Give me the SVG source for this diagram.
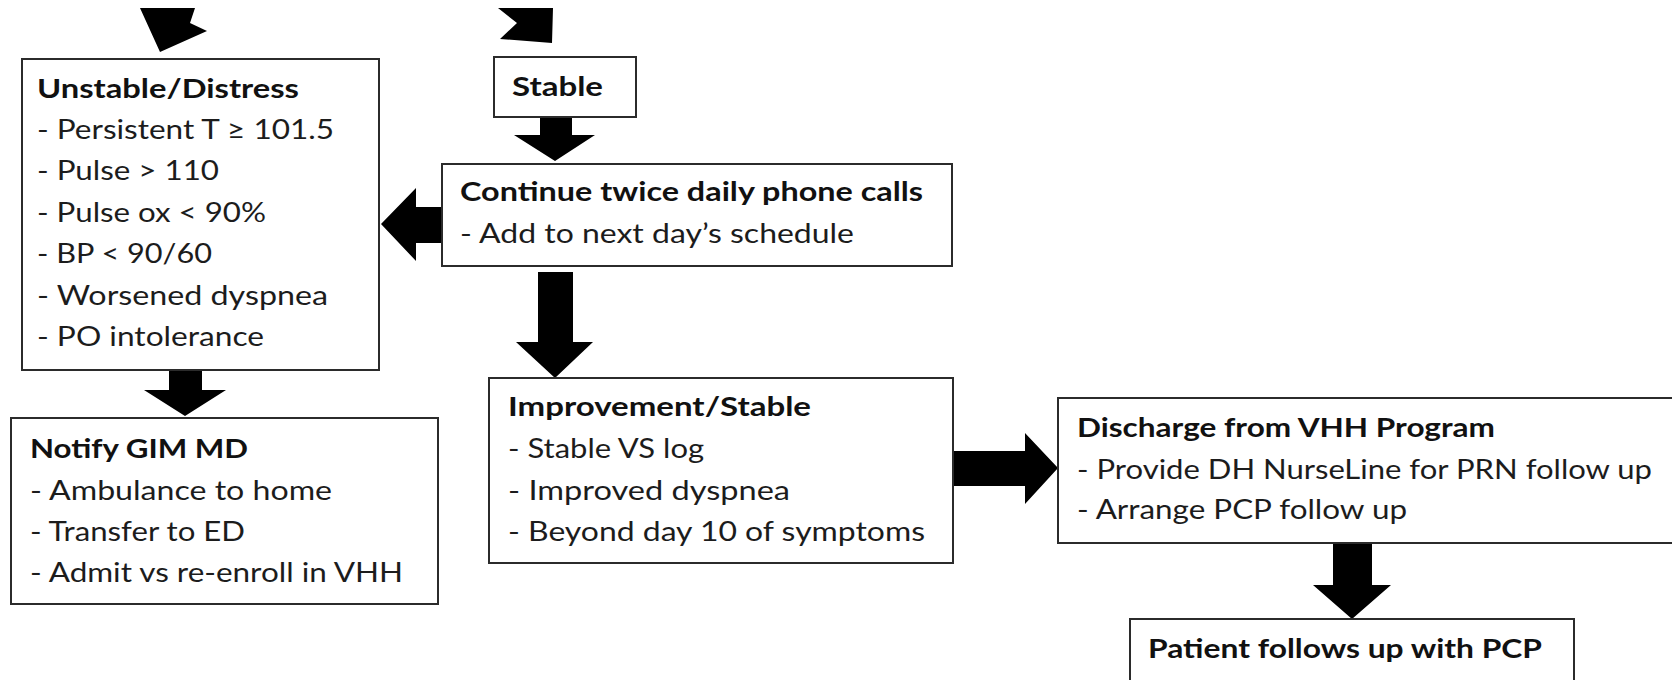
<svg xmlns="http://www.w3.org/2000/svg" width="1672" height="680" viewBox="0 0 1672 680">
<style>
.box{fill:#fff;stroke:#2b2b2b;stroke-width:2}
.arr{fill:#000;stroke:none}
text{font-family:Lato,"Open Sans","Liberation Sans",sans-serif;font-size:27px;fill:#1c1c1c}
.t{font-weight:700;fill:#111}
</style>
<rect width="1672" height="680" fill="#fff"/>
<g id="connectors">
<polygon class="arr" points="140,8 195,8 190,23 207,31 160,52"/>
<polygon class="arr" points="498,8 553,8 552,43 500,39 517,23"/>
<polygon class="arr" points="540,117 572,117 572,135 595,135 555,161 514,135 540,135"/>
<polygon class="arr" points="442,207 416,207 416,188 381,224 416,261 416,243 442,243"/>
<polygon class="arr" points="169,370 202,370 202,390 226,390 185,416 144,390 169,390"/>
<polygon class="arr" points="538,272 573,272 573,342 593,342 555,378 516,342 538,342"/>
<polygon class="arr" points="950,451 1025,451 1025,433 1058,468 1025,504 1025,486 950,486"/>
<polygon class="arr" points="1333,543 1372,543 1372,585 1391,585 1352,619 1313,585 1333,585"/>
</g>
<g id="unstable">
<rect class="box" x="22" y="59" width="357" height="311"/>
<text class="t" x="37" y="98" textLength="262" lengthAdjust="spacingAndGlyphs">Unstable/Distress</text>
<text x="37" y="139" textLength="297" lengthAdjust="spacingAndGlyphs">- Persistent T ≥ 101.5</text>
<text x="37" y="180" textLength="182" lengthAdjust="spacingAndGlyphs">- Pulse &gt; 110</text>
<text x="37" y="222" textLength="229" lengthAdjust="spacingAndGlyphs">- Pulse ox &lt; 90%</text>
<text x="37" y="263" textLength="175" lengthAdjust="spacingAndGlyphs">- BP &lt; 90/60</text>
<text x="37" y="305" textLength="291" lengthAdjust="spacingAndGlyphs">- Worsened dyspnea</text>
<text x="37" y="346" textLength="227" lengthAdjust="spacingAndGlyphs">- PO intolerance</text>
</g>
<g id="stable">
<rect class="box" x="494" y="57" width="142" height="60"/>
<text class="t" x="512" y="96" textLength="91" lengthAdjust="spacingAndGlyphs">Stable</text>
</g>
<g id="continue">
<rect class="box" x="442" y="164" width="510" height="102"/>
<text class="t" x="460" y="201" textLength="463" lengthAdjust="spacingAndGlyphs">Continue twice daily phone calls</text>
<text x="460" y="243" textLength="394" lengthAdjust="spacingAndGlyphs">- Add to next day’s schedule</text>
</g>
<g id="notify">
<rect class="box" x="11" y="418" width="427" height="186"/>
<text class="t" x="30" y="458" textLength="218" lengthAdjust="spacingAndGlyphs">Notify GIM MD</text>
<text x="30" y="500" textLength="302" lengthAdjust="spacingAndGlyphs">- Ambulance to home</text>
<text x="30" y="541" textLength="215" lengthAdjust="spacingAndGlyphs">- Transfer to ED</text>
<text x="30" y="582" textLength="373" lengthAdjust="spacingAndGlyphs">- Admit vs re-enroll in VHH</text>
</g>
<g id="improvement">
<rect class="box" x="489" y="378" width="464" height="185"/>
<text class="t" x="508" y="416" textLength="303" lengthAdjust="spacingAndGlyphs">Improvement/Stable</text>
<text x="508" y="458" textLength="196" lengthAdjust="spacingAndGlyphs">- Stable VS log</text>
<text x="508" y="500" textLength="282" lengthAdjust="spacingAndGlyphs">- Improved dyspnea</text>
<text x="508" y="541" textLength="417" lengthAdjust="spacingAndGlyphs">- Beyond day 10 of symptoms</text>
</g>
<g id="discharge">
<rect class="box" x="1058" y="398" width="630" height="145"/>
<text class="t" x="1077" y="437" textLength="418" lengthAdjust="spacingAndGlyphs">Discharge from VHH Program</text>
<text x="1077" y="479" textLength="575" lengthAdjust="spacingAndGlyphs">- Provide DH NurseLine for PRN follow up</text>
<text x="1077" y="519" textLength="330" lengthAdjust="spacingAndGlyphs">- Arrange PCP follow up</text>
</g>
<g id="patient">
<rect class="box" x="1130" y="619" width="444" height="100"/>
<text class="t" x="1148" y="658" textLength="394" lengthAdjust="spacingAndGlyphs">Patient follows up with PCP</text>
</g>
</svg>
